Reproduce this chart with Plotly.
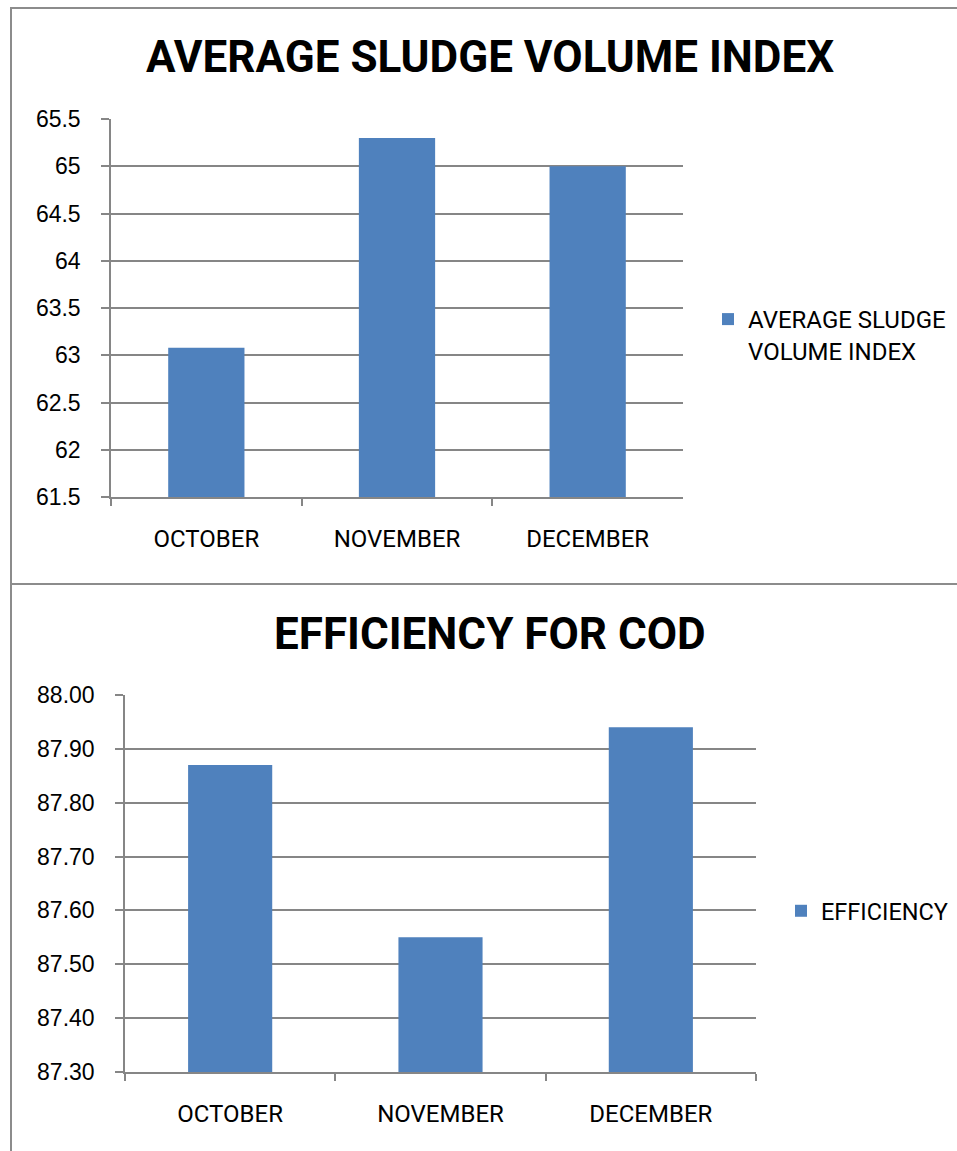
import plotly.graph_objects as go

# ---- data ----
months = ["OCTOBER", "NOVEMBER", "DECEMBER"]
svi_values = [63.08, 65.30, 65.00]
cod_efficiency = [87.87, 87.55, 87.94]
svi_ticks = [61.5, 62, 62.5, 63, 63.5, 64, 64.5, 65, 65.5]
svi_tick_text = ["61.5", "62", "62.5", "63", "63.5", "64", "64.5", "65", "65.5"]
cod_ticks = [87.3, 87.4, 87.5, 87.6, 87.7, 87.8, 87.9, 88.0]
cod_tick_text = ["87.30", "87.40", "87.50", "87.60", "87.70", "87.80", "87.90", "88.00"]
title_top = "AVERAGE SLUDGE VOLUME INDEX"
title_bottom = "EFFICIENCY FOR COD"
legend_top = "AVERAGE SLUDGE<br>VOLUME INDEX"
legend_bottom = "EFFICIENCY"

# ---- layout helpers ----
W, H = 957, 1151


def px(x):
    return x / W


def py(y):
    return 1 - y / H


BLUE = "#4F81BD"
GRID = "#868686"
BORDER = "#8C8C8C"
NARROW = "Roboto, Liberation Sans Narrow, DejaVu Sans Condensed, sans-serif"
REG = "Liberation Sans, Arial, sans-serif"

fig = go.Figure()
fig.add_trace(go.Bar(x=months, y=svi_values, name=legend_top, showlegend=True,
                     marker=dict(color=BLUE, line=dict(width=0)),
                     xaxis="x", yaxis="y", legend="legend"))
fig.add_trace(go.Bar(x=months, y=cod_efficiency, name=legend_bottom, showlegend=True,
                     marker=dict(color=BLUE, line=dict(width=0)),
                     xaxis="x2", yaxis="y2", legend="legend2"))

xcommon = dict(showline=True, linecolor=GRID, linewidth=1.5, ticks="outside",
               tickson="boundaries", ticklen=7, tickcolor=GRID, tickwidth=1.5,
               showgrid=False, automargin=False,
               tickfont=dict(family=NARROW, size=24, color="#000"),
               ticklabelstandoff=19)
ycommon = dict(showline=True, linecolor=GRID, linewidth=1.5, ticks="outside",
               ticklen=8, tickcolor=GRID, tickwidth=1.5, showgrid=True,
               gridcolor=GRID, gridwidth=1.5, zeroline=False, automargin=False,
               tickfont=dict(family=REG, size=23, color="#000"),
               ticklabelstandoff=16)

fig.update_layout(
    width=W, height=H,
    autosize=False,
    showlegend=True,
    margin=dict(l=0, r=0, t=0, b=0, pad=0),
    paper_bgcolor="white", plot_bgcolor="white",
    bargap=0.6,
    xaxis=dict(domain=[px(111), px(683)], anchor="y", **xcommon),
    yaxis=dict(domain=[py(497), py(119)], anchor="x", range=[61.5, 65.5],
               tickvals=svi_ticks, ticktext=svi_tick_text, **ycommon),
    xaxis2=dict(domain=[px(125), px(756)], anchor="y2", **xcommon),
    yaxis2=dict(domain=[py(1072), py(695)], anchor="x2", range=[87.3, 88.0],
                tickvals=cod_ticks, ticktext=cod_tick_text, **ycommon),
    legend=dict(x=px(708), y=py(297), xanchor="left", yanchor="top",
                valign="top", bgcolor="rgba(0,0,0,0)",
                font=dict(family=NARROW, size=24, color="#000")),
    legend2=dict(x=px(781), y=py(889), xanchor="left", yanchor="top",
                 valign="top", bgcolor="rgba(0,0,0,0)",
                 font=dict(family=NARROW, size=23.5, color="#000")),
    annotations=[
        dict(text="<b>" + title_top + "</b>", x=px(490), y=py(57),
             xref="paper", yref="paper", xanchor="center", yanchor="middle",
             showarrow=False, font=dict(family=NARROW, size=44, color="#000")),
        dict(text="<b>" + title_bottom + "</b>", x=px(490), y=py(634),
             xref="paper", yref="paper", xanchor="center", yanchor="middle",
             showarrow=False, font=dict(family=NARROW, size=44, color="#000")),
    ],
    shapes=[
        dict(type="line", xref="paper", yref="paper", x0=px(11), x1=1,
             y0=py(8), y1=py(8), line=dict(color=BORDER, width=2)),
        dict(type="line", xref="paper", yref="paper", x0=px(11), x1=px(11),
             y0=py(7), y1=0, line=dict(color=BORDER, width=2)),
        dict(type="line", xref="paper", yref="paper", x0=px(11), x1=1,
             y0=py(584), y1=py(584), line=dict(color=BORDER, width=2)),
    ],
)

fig.write_html("out.html", config={"displayModeBar": False},
               post_script="document.body.style.margin='0';")
